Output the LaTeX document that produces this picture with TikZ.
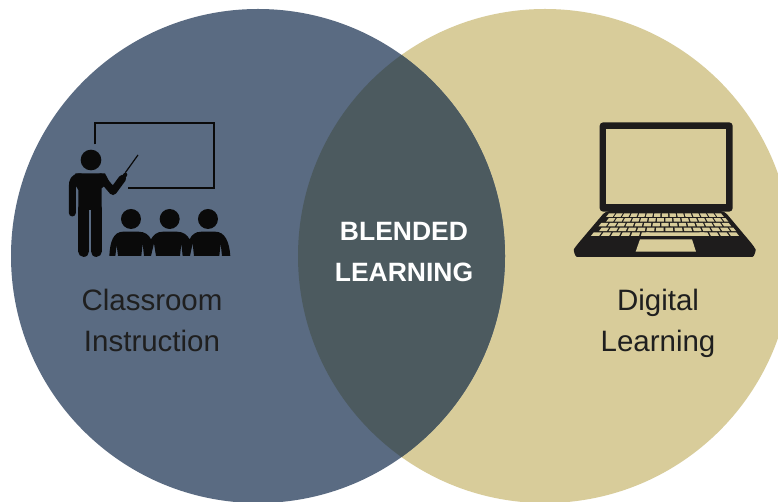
\documentclass[tikz,border=0pt]{standalone}
\usepackage{fontspec}
\setmainfont{Liberation Sans}
\definecolor{navy}{HTML}{5A6B82}
\definecolor{sand}{HTML}{D8CC9A}
\definecolor{overlap}{HTML}{4C5A5F}
\definecolor{ink}{HTML}{0A0A0A}
\definecolor{lapink}{HTML}{1E1C1C}
\tikzset{
  label text/.style={align=center,text=black!88,font=\fontsize{29.5}{41}\selectfont},
  center text/.style={align=center,text=white,font=\bfseries\fontsize{26.5}{41}\selectfont},
  limb/.style={line cap=round,line join=round,draw=ink},
  boardline/.style={line width=1.9pt,draw=ink,line cap=butt,line join=miter},
}
\begin{document}
\begin{tikzpicture}[x=1pt,y=-1pt]
\useasboundingbox (0,0) rectangle (778,502);
\fill[white] (0,0) rectangle (778,502);
\fill[sand] (545,256) circle[radius=247];
\fill[navy] (258,256) circle[radius=247];
\begin{scope}
  \clip (258,256) circle[radius=247];
  \fill[overlap] (545,256) circle[radius=247];
\end{scope}
% teacher icon, in crop coordinates (3x)
\begin{scope}[shift={(50,110)},x=0.3333pt,y=-0.3333pt]
  \draw[boardline] (135,103) -- (135,40) -- (491,40) -- (491,235) -- (235,235);
  \draw[ink,line width=1.2pt] (264,135) -- (226,188);
  \fill[ink] (123,150) circle[radius=31];
  % left arm
  \draw[limb,line width=7pt] (90,200) .. controls (72,202) and (67,212) .. (67,230) -- (67,309);
  % torso
  \fill[ink] (85,300) -- (85,240) -- (76,225) -- (76,190) -- (165,190) -- (178,215) -- (155,235) -- (155,300) -- cycle;
  % right arm and hand
  \draw[limb,line width=7.5pt] (152,201) -- (189,244) -- (217,206);
  \draw[limb,line width=4pt] (217,206) -- (226,194);
  % legs
  \draw[limb,line width=11.2pt] (101.5,295) -- (101.5,424);
  \draw[limb,line width=11.2pt] (138.5,295) -- (138.5,424);
  % students
  \foreach \cx in {243,359,474}{
    \fill[ink] (\cx,327) circle[radius=30];
  }
  \fill[ink] (178,438) .. controls (180,395) and (190,365) .. (220,365) -- (265,365) .. controls (285,365) and (297,375) .. (303,388)
     .. controls (310,375) and (320,365) .. (340,365) -- (380,365) .. controls (400,365) and (412,375) .. (419,388)
     .. controls (425,375) and (435,365) .. (455,365) -- (495,365) .. controls (525,365) and (538,395) .. (541,438)
     -- (516,438) -- (512,400) -- (508,438) -- (432,438) -- (428,400) -- (420,438) -- (398,438) -- (394,400) -- (390,438)
     -- (318,438) -- (312,400) -- (303,438) -- (282,438) -- (278,400) -- (274,438) -- (204,438) -- (200,405) -- (196,438) -- cycle;
\end{scope}
% laptop icon, in crop coordinates (3x)
\begin{scope}[shift={(565,110)},x=0.3333pt,y=-0.3333pt]
  \fill[lapink,rounded corners=3.5pt] (104,37) rectangle (503,305);
  \fill[sand] (124,57) rectangle (484,283);
  \fill[lapink,rounded corners=4pt] (122,303) -- (478,303) -- (566,408) .. controls (573,420) and (568,441) .. (550,441)
     -- (48,441) .. controls (30,441) and (25,420) .. (33,408) -- cycle;
  \fill[sand] (225,388) -- (381,388) -- (393,425) -- (212,425) -- cycle;
  \foreach \r in {0,...,4}{
    \pgfmathsetmacro\yt{310+\r*14.2}
    \pgfmathsetmacro\yb{\yt+10.8}
    \pgfmathsetmacro\ltop{130-(\yt-310)*0.81}
    \pgfmathsetmacro\rtop{470+(\yt-310)*0.81}
    \pgfmathsetmacro\lbot{130-(\yb-310)*0.81}
    \pgfmathsetmacro\rbot{470+(\yb-310)*0.81}
    \pgfmathsetmacro\stag{mod(\r,2)*0.45}
    \foreach \c in {0,...,14}{
      \pgfmathsetmacro\show{(\r==4 && \c>5 && \c<11) ? 0 : 1}
      \ifnum\show>0
      \pgfmathsetmacro\ca{(\c+0.09+\stag)/15}
      \pgfmathsetmacro\cb{min(\c+0.91+\stag,15)/15}
      \fill[sand] ({\ltop+(\rtop-\ltop)*\ca},\yt) -- ({\ltop+(\rtop-\ltop)*\cb},\yt) -- ({\lbot+(\rbot-\lbot)*\cb},\yb) -- ({\lbot+(\rbot-\lbot)*\ca},\yb) -- cycle;
      \fi
    }
  }
  % space bar
  \fill[sand] (243,367) -- (418,367) -- (420,377.8) -- (241,377.8) -- cycle;
\end{scope}
\node[label text] (classroom) at (152,322.5) {\strut Classroom\\\strut Instruction};
\node[label text] (digital) at (658,322.5) {\strut Digital\\\strut Learning};
\node[center text] (blended) at (404,253) {\strut BLENDED\\\strut LEARNING};
\end{tikzpicture}
\end{document}
